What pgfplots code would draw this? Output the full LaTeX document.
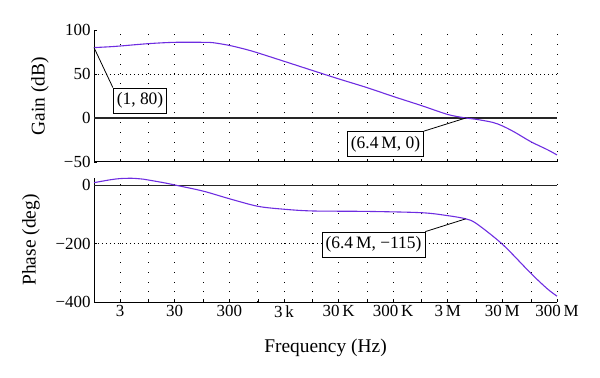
\documentclass[border=0pt]{standalone}
\usepackage{pgfplots}
\pgfplotsset{compat=1.18}
\usepackage{fontspec}
\setmainfont{Liberation Serif}
\definecolor{curve}{RGB}{110,45,225}
\pgfplotsset{
  every axis/.append style={
  scale only axis, width=463bp,
  xmin=1, xmax=3e8,
  axis x line*=bottom, axis y line*=left,
  axis line style={line width=1pt, black},
  xtick={3,30,300,3000,30000,300000,3000000,30000000,300000000},
  minor xtick={10,100,1000,10000,100000,1000000,10000000,100000000},
  xmajorgrids, xminorgrids,
  major grid style={black, line width=0.8pt, dash pattern=on 0.8pt off 9pt},
  minor grid style={black, line width=0.8pt, dash pattern=on 0.8pt off 9pt},
  tick align=inside, major tick length=3bp, minor tick length=3bp,
  tick style={black, line width=0.6pt},
  tick label style={font=\fontsize{17}{19}\selectfont},
  clip=false,
 },
}
\pgfplotsset{/pgf/number format/assume math mode=true}
\begin{document}
\begin{tikzpicture}[font=\fontsize{17}{19}\selectfont]
\useasboundingbox (0,0) rectangle (600bp,378bp);
\begin{semilogxaxis}[at={(94bp,216bp)}, anchor=south west, height=132bp,
  ymin=-50, ymax=100, ytick={-50,0,50,100}, yticklabels={−50,0,50,100},
  xticklabels={}]
\draw[black, line width=0.8pt, dash pattern=on 0.8pt off 3.2pt] (axis cs:1,50) -- (axis cs:3e8,50);
\draw[black!85, line width=1.3pt] (axis cs:1,0) -- (axis cs:3e8,0);
\addplot[color=curve, line width=1.1pt, smooth, no markers] coordinates {
(1,80) (2,81) (3,81.8) (10,84.5) (30,86) (100,86) (150,85.6) (300,82.5) (600,78)
(1000,74) (3000,64.5) (10000,54) (30000,44.5) (100000,34.5) (300000,24.5)
(1e6,14) (3e6,4) (6.4e6,0) (1e7,-1.5) (2e7,-5) (3e7,-9) (5e7,-16) (1e8,-27) (2e8,-36) (3e8,-42)};
\coordinate (p1) at (axis cs:1,80);
\coordinate (p2) at (axis cs:6.4e6,0);
\end{semilogxaxis}
\begin{semilogxaxis}[at={(94bp,76bp)}, anchor=south west, height=124bp,
  ymin=-400, ymax=25, ytick={-400,-200,0}, yticklabels={−400,−200,0},
  xticklabels={3,30,300,3\,k,30\,K,300\,K,3\,M,30\,M,300\,M}]
\draw[black, line width=0.8pt, dash pattern=on 0.8pt off 3.2pt] (axis cs:1,-200) -- (axis cs:3e8,-200);
\draw[black!85, line width=1.3pt] (axis cs:1,0) -- (axis cs:3e8,0);
\addplot[color=curve, line width=1.1pt, smooth, no markers] coordinates {
(1,9) (2,19) (3,23) (5,24) (8,21) (10,18) (20,8) (32,0) (100,-20) (300,-46)
(1000,-72) (3000,-82) (10000,-88) (100000,-89.5) (1e6,-94) (3e6,-104) (6.4e6,-115)
(1e7,-131) (3e7,-202) (1e8,-302) (2e8,-355) (3e8,-380)};
\coordinate (p3) at (axis cs:6.4e6,-115);
\end{semilogxaxis}
\node[rotate=90, font=\fontsize{19.5}{21}\selectfont] at (40bp,281.5bp) {Gain (dB)};
\node[rotate=90, font=\fontsize{19.5}{21}\selectfont] at (31bp,138bp) {Phase (deg)};
\node[font=\fontsize{19.5}{21}\selectfont] at (325.5bp,30bp) {Frequency (Hz)};
\tikzset{box/.style={draw=black, fill=white, line width=0.8pt, inner xsep=3.5pt, inner ysep=2pt, minimum height=25bp, font=\fontsize{17.5}{19}\selectfont}}
\node[box] (b1) at (140bp,277.5bp) {(1, 80)};
\node[box] (b2) at (385.5bp,234bp) {(6.4\,M, 0)};
\node[box] (b3) at (373.5bp,133.5bp) {(6.4\,M, −115)};
\draw[black, line width=0.8pt] (p1) -- (b1.north west);
\draw[black, line width=0.8pt] (b2.north east) -- (p2);
\draw[black, line width=0.8pt] (b3.north east) -- (p3);
\end{tikzpicture}
\end{document}
